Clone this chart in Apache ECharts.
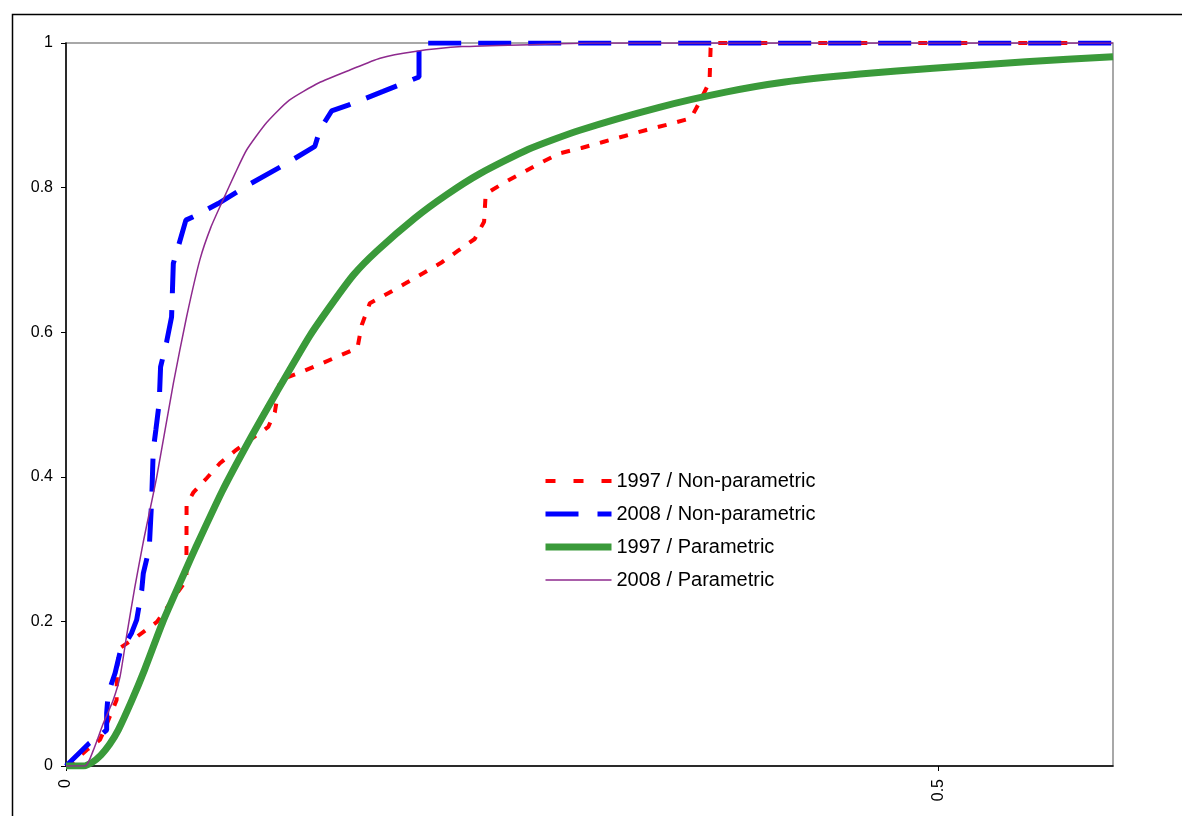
<!DOCTYPE html>
<html>
<head>
<meta charset="utf-8">
<script src="https://cdn.jsdelivr.net/npm/echarts@6/dist/echarts.min.js"></script>
<style>
html,body{margin:0;padding:0;background:#fff;}
#chart{width:1182px;height:816px;}
</style>
</head>
<body>
<div id="chart"></div>
<script>
// Series names
const seriesNames = ['1997 / Non-parametric', '2008 / Non-parametric', '1997 / Parametric', '2008 / Parametric'];

// Tick label values
const xTickValues = [0, 0.5];
const yTickStep = 0.2;

// 1997 / Non-parametric (empirical CDF) : [x, F]
const np1997 = [
  [0, 0], [0.0033, 0.0041], [0.0119, 0.0221], [0.0195, 0.0364], [0.0212, 0.0456],
  [0.0290, 0.0913], [0.0292, 0.1355], [0.0309, 0.1632], [0.0412, 0.1798], [0.0521, 0.1992],
  [0.0690, 0.2573], [0.0691, 0.361], [0.0729, 0.378], [0.0806, 0.398], [0.0882, 0.4187],
  [0.0968, 0.4357], [0.1064, 0.4526], [0.1159, 0.4689], [0.1197, 0.4896], [0.1226, 0.5339],
  [0.1330, 0.5432], [0.1445, 0.5546], [0.1560, 0.5667], [0.1670, 0.5781], [0.1695, 0.6100],
  [0.1741, 0.640], [0.1846, 0.6538], [0.1946, 0.6676], [0.2046, 0.6815], [0.2152, 0.6964],
  [0.2247, 0.7127], [0.2342, 0.7289], [0.2396, 0.7528], [0.2405, 0.7911], [0.2505, 0.806],
  [0.2610, 0.8197], [0.2715, 0.8336], [0.2829, 0.8474], [0.2954, 0.8548], [0.3077, 0.8631],
  [0.3202, 0.8714], [0.3326, 0.8797], [0.3454, 0.8876], [0.3581, 0.8959], [0.3631, 0.9184],
  [0.3688, 0.9465], [0.3694, 0.9931], [0.3706, 1.0], [0.6, 1.0]
];

// 2008 / Non-parametric (empirical CDF)
const np2008 = [
  [0, 0], [0.0133, 0.0314], [0.0200, 0.0429], [0.0233, 0.0498], [0.0233, 0.0733],
  [0.0242, 0.1006], [0.0281, 0.1282], [0.0309, 0.1563], [0.0376, 0.184], [0.0405, 0.202],
  [0.0434, 0.243], [0.0443, 0.2665], [0.0477, 0.301], [0.0491, 0.368], [0.0500, 0.437],
  [0.0515, 0.465], [0.0534, 0.502], [0.0542, 0.552], [0.0577, 0.587], [0.0605, 0.621],
  [0.0615, 0.695], [0.0643, 0.718], [0.0687, 0.755], [0.0749, 0.762], [0.0872, 0.778],
  [0.1054, 0.805], [0.1254, 0.832], [0.1426, 0.857], [0.1455, 0.880], [0.1522, 0.906],
  [0.1617, 0.914], [0.1817, 0.933], [0.2023, 0.953], [0.2023, 1.0], [0.6, 1.0]
];

// 1997 / Parametric (fitted CDF)
const par1997 = [
  [0, 0], [0.010, 0], [0.015, 0.005], [0.020, 0.015], [0.025, 0.030], [0.030, 0.050],
  [0.0376, 0.090], [0.045, 0.133], [0.0556, 0.200], [0.068, 0.268], [0.0743, 0.302],
  [0.0895, 0.380], [0.1061, 0.455], [0.1207, 0.517], [0.1397, 0.595], [0.1535, 0.643],
  [0.165, 0.680], [0.178, 0.712], [0.20, 0.758], [0.218, 0.790], [0.237, 0.819],
  [0.265, 0.853], [0.294, 0.879], [0.34, 0.911], [0.378, 0.932], [0.412, 0.946],
  [0.455, 0.957], [0.497, 0.965], [0.55, 0.974], [0.6, 0.981]
];

// 2008 / Parametric (fitted CDF)
const par2008 = [
  [0, 0], [0.011, 0], [0.0157, 0.022], [0.0214, 0.059], [0.027, 0.091], [0.031, 0.124],
  [0.0348, 0.181], [0.0395, 0.248], [0.0443, 0.31], [0.052, 0.40], [0.0615, 0.529],
  [0.069, 0.62], [0.0767, 0.700], [0.083, 0.745], [0.090, 0.783], [0.097, 0.82],
  [0.1035, 0.852], [0.115, 0.89], [0.128, 0.921], [0.145, 0.945], [0.163, 0.963],
  [0.18, 0.979], [0.199, 0.988], [0.227, 0.995], [0.27, 0.998], [0.3, 1.0], [0.6, 1.0]
];

const FONT = "'Liberation Sans', Arial, sans-serif";
const chart = echarts.init(document.getElementById('chart'), null, {renderer: 'canvas'});

const styles = [
  {color: '#ff0000', width: 4, type: [9, 11], legendType: [10, 18], smooth: false},
  {color: '#0000ff', width: 5, type: [33, 17], legendType: [33, 19], smooth: false},
  {color: '#3a9a3a', width: 7, type: 'solid', legendType: 'solid', smooth: 0.2},
  {color: '#8e2a8e', width: 1.5, type: 'solid', legendType: 'solid', smooth: 0.2}
];
const dataSets = [np1997, np2008, par1997, par2008];

const option = {
  animation: false,
  backgroundColor: '#ffffff',
  graphic: [{
    type: 'rect', left: 10, top: 12, z: -1, silent: true,
    shape: {width: 1300, height: 900},
    style: {fill: 'none', stroke: '#000', lineWidth: 1.5}
  }],
  grid: {
    left: 66, top: 43, right: 69, bottom: 50,
    show: true, borderColor: '#8c8c8c', borderWidth: 1.5, backgroundColor: 'transparent'
  },
  legend: {
    orient: 'vertical', left: 537, top: 466,
    itemWidth: 66, itemHeight: 14, itemGap: 13,
    itemStyle: {color: 'transparent', borderColor: 'transparent', borderWidth: 0},
    textStyle: {fontFamily: FONT, fontSize: 20, color: '#000'},
    data: seriesNames.map((n, i) => ({
      name: n,
      lineStyle: {width: styles[i].width, type: styles[i].legendType, color: styles[i].color}
    }))
  },
  xAxis: {
    type: 'value', min: 0, max: 0.6, interval: 0.5,
    axisLine: {show: true, onZero: false, lineStyle: {color: '#000', width: 1.5}},
    axisTick: {show: true, length: 5, customValues: xTickValues, lineStyle: {color: '#000'}},
    axisLabel: {show: true, rotate: 90, margin: 13, customValues: xTickValues,
      fontFamily: FONT, fontSize: 16, color: '#000'},
    splitLine: {show: false}
  },
  yAxis: {
    type: 'value', min: 0, max: 1, interval: yTickStep,
    axisLine: {show: true, onZero: false, lineStyle: {color: '#000', width: 1.5}},
    axisTick: {show: true, length: 5, lineStyle: {color: '#000'}},
    axisLabel: {margin: 13, fontFamily: FONT, fontSize: 16, color: '#000'},
    splitLine: {show: false}
  },
  series: seriesNames.map((n, i) => ({
    name: n, type: 'line', data: dataSets[i], symbol: 'none', z: 2 + i,
    smooth: styles[i].smooth,
    lineStyle: {color: styles[i].color, width: styles[i].width, type: styles[i].type},
    itemStyle: {color: styles[i].color}
  }))
};
chart.setOption(option);
</script>
</body>
</html>
